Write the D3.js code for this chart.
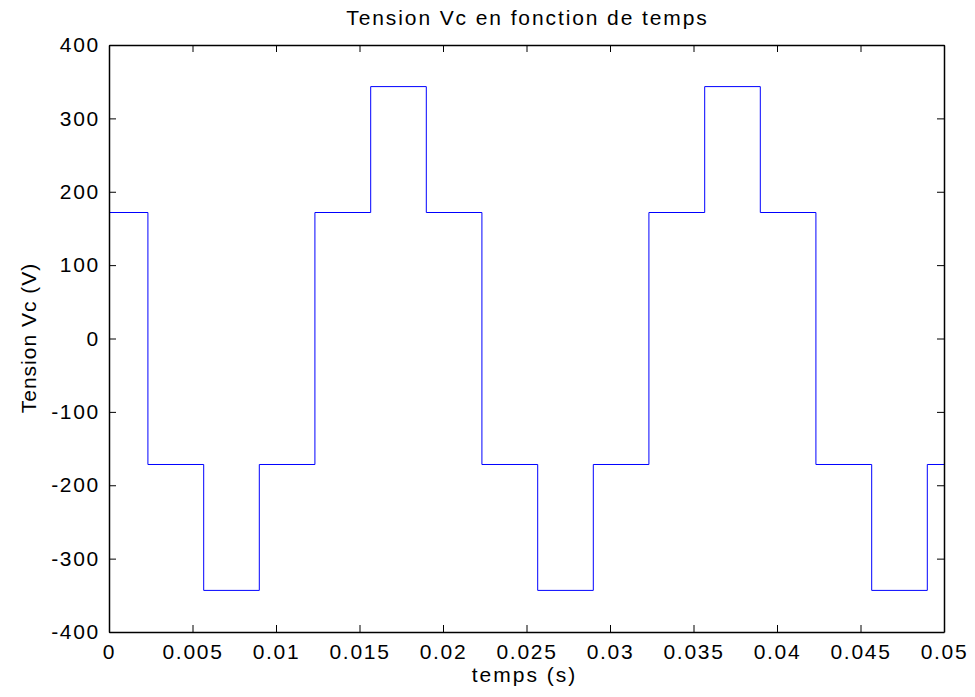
<!DOCTYPE html>
<meta charset="utf-8">
<html><head>
<style>
body { margin: 0; background: #fff; }
text { font-family: "Liberation Sans", Arial, sans-serif; fill: #000; }
.tick text { font-size: 21px; letter-spacing: 1.7px; }
.axis path, .axis line { stroke: #000; }
</style>
</head>
<body>
<svg width="975" height="697"></svg>
<script src="https://d3js.org/d3.v7.min.js"></script>
<script>

// step changes of the voltage (time in s, value in V held until next time)
var stepTimes = [0, 0.00233, 0.00567, 0.009, 0.01233, 0.01567, 0.019, 0.02233,
                 0.02567, 0.029, 0.03233, 0.03567, 0.039, 0.04233, 0.04567, 0.049, 0.05];
var stepValues = [171.7, -171.7, -343.3, -171.7, 171.7, 343.3, 171.7, -171.7,
                  -343.3, -171.7, 171.7, 343.3, 171.7, -171.7, -343.3, -171.7, -171.7];
var xTicks = [0, 0.005, 0.01, 0.015, 0.02, 0.025, 0.03, 0.035, 0.04, 0.045, 0.05];
var yTicks = [-400, -300, -200, -100, 0, 100, 200, 300, 400];

var svg = d3.select("svg"),
    pLeft = 109, pRight = 944, pTop = 45, pBottom = 632;

var x = d3.scaleLinear().domain([0, 0.05]).range([pLeft, pRight]);
var y = d3.scaleLinear().domain([-400, 400]).range([pBottom, pTop]);

var fmtX = function(d) { return String(+d.toFixed(3)); };
var fmtY = function(d) { return String(d); };

var data = stepTimes.map(function(t, i) { return [t, stepValues[i]]; });

var line = d3.line()
    .x(function(d) { return x(d[0]); })
    .y(function(d) { return y(d[1]); })
    .curve(d3.curveStepAfter);

svg.append("path")
    .datum(data)
    .attr("d", line)
    .attr("fill", "none")
    .attr("stroke", "#0000ff")
    .attr("stroke-width", 1);

// bottom and left axes with labels
svg.append("g")
    .attr("class", "axis")
    .attr("transform", "translate(0," + pBottom + ")")
    .call(d3.axisBottom(x).tickValues(xTicks).tickFormat(fmtX)
      .tickSizeInner(-7).tickSizeOuter(0).tickPadding(12))
    .call(function(g) { g.selectAll(".tick text").attr("dy", "0.71em"); });

svg.append("g")
    .attr("class", "axis")
    .attr("transform", "translate(" + pLeft + ",0)")
    .call(d3.axisLeft(y).tickValues(yTicks).tickFormat(fmtY)
      .tickSizeInner(-7).tickSizeOuter(0).tickPadding(9));

// top and right: ticks only
svg.append("g")
    .attr("class", "axis")
    .attr("transform", "translate(0," + pTop + ")")
    .call(d3.axisTop(x).tickValues(xTicks).tickFormat("")
      .tickSizeInner(-7).tickSizeOuter(0));

svg.append("g")
    .attr("class", "axis")
    .attr("transform", "translate(" + pRight + ",0)")
    .call(d3.axisRight(y).tickValues(yTicks).tickFormat("")
      .tickSizeInner(-7).tickSizeOuter(0));

svg.selectAll(".axis path.domain").attr("stroke-width", 1.5);

svg.append("text")
    .attr("x", (pLeft + pRight) / 2 + 1)
    .attr("y", 25)
    .attr("text-anchor", "middle")
    .style("font-size", "21px")
    .style("letter-spacing", "1.9px")
    .text("Tension Vc en fonction de temps");

svg.append("text")
    .attr("x", (pLeft + pRight) / 2 - 2)
    .attr("y", 682)
    .attr("text-anchor", "middle")
    .style("font-size", "21px")
    .style("letter-spacing", "2px")
    .text("temps (s)");

svg.append("text")
    .attr("transform", "translate(36,338) rotate(-90)")
    .attr("text-anchor", "middle")
    .style("font-size", "21px")
    .style("letter-spacing", "1px")
    .text("Tension Vc (V)");

</script>
</body>
</html>
